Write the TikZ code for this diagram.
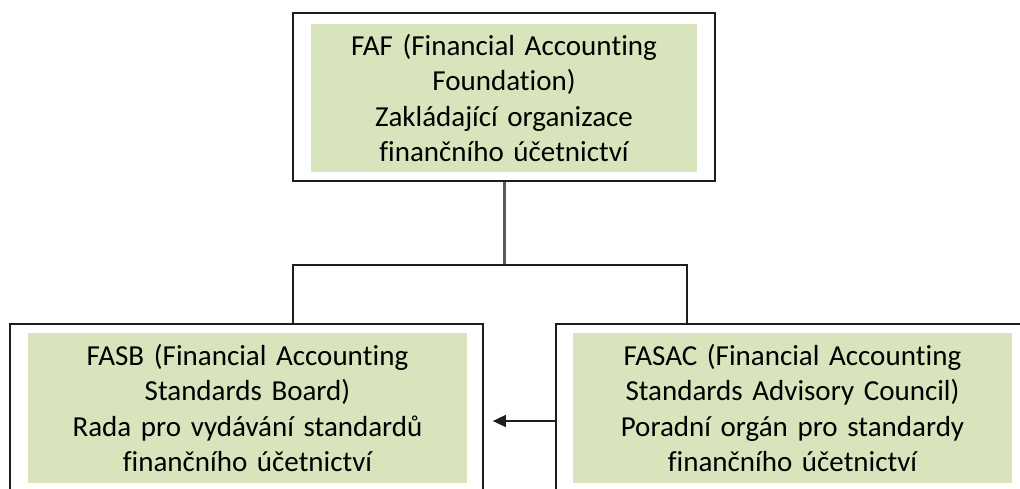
\documentclass[tikz,border=0pt]{standalone}
\usepackage{fontspec}
\setmainfont{Carlito}[Ligatures=NoCommon, RawFeature={-liga;-calt;-clig}]
\usetikzlibrary{arrows.meta}
\definecolor{boxgreen}{HTML}{D8E4BC}
\definecolor{edge}{HTML}{1E1E1E}
\definecolor{stem}{HTML}{5A5A5A}
\newcommand{\Acc}{Accoun\kern0pt t\kern0pt ing}
\tikzset{
  outerbox/.style={draw=edge, line width=1.7pt, fill=white, inner sep=0pt},
  greenbox/.style={fill=boxgreen, inner sep=0pt, align=center, text=black,
    font=\fontsize{29}{35.2}\selectfont},
  link/.style={draw=edge, line width=1.6pt},
  stemline/.style={draw=stem, line width=3pt},
}
\begin{document}
\begin{tikzpicture}[x=1pt, y=-1pt]
\useasboundingbox (0,0) rectangle (1020,488);
\clip (0,0) rectangle (1020,488);
% top
\node[outerbox, minimum width=422pt, minimum height=168pt] (top) at (504,97) {};
\node[greenbox, minimum width=386pt, minimum height=148pt, text width=386pt] (topg) at (504,98)
  {FAF (Financial \Acc\\Foundation)\\Zakládající organizace\\finančního účetnictví};
% left
\node[outerbox, minimum width=473pt, minimum height=176pt] (lft) at (246.5,412) {};
\node[greenbox, minimum width=439pt, minimum height=150pt, text width=439pt] (lftg) at (247.5,408)
  {FASB (Financial \Acc\\Standards Board)\\Rada pro vydávání standardů\\finančního účetnictví};
% right
\node[outerbox, minimum width=473pt, minimum height=176pt] (rgt) at (792.5,412) {};
\node[greenbox, minimum width=439pt, minimum height=150pt, text width=439pt] (rgtg) at (792.5,408)
  {FASAC (Financial \Acc\\Standards Advisory Council)\\Poradní orgán pro standardy\\finančního účetnictví};
% connectors
\coordinate (hub) at (504,265);
\coordinate (jl) at (293,265);
\coordinate (jr) at (687,265);
\coordinate (arr) at (0,421);
\draw[stemline] (top.south) -- (hub);
\draw[link] (jl |- lft.north) -- (jl) -- (jr) -- (jr |- rgt.north);
\draw[link, -{Triangle[length=13pt, width=12pt]}, shorten >=9pt] (rgt.west |- arr) -- (lft.east |- arr);
\end{tikzpicture}
\end{document}
